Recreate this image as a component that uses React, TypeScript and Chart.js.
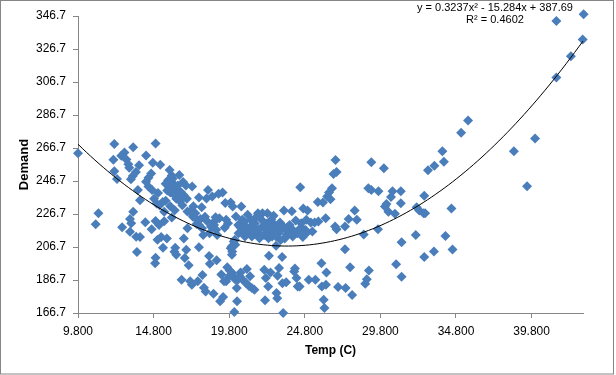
import React, { useEffect, useRef } from 'react';
import { Chart, registerables } from 'chart.js';

Chart.register(...registerables);

const tempC = [
  9.8, 10.97, 11.15, 12.2, 12.14, 12.2, 12.38, 12.72, 12.66, 12.87,
  13.0, 13.13, 13.19, 13.45, 13.3, 13.42, 13.63, 13.84, 13.24, 13.32,
  13.45, 13.24, 13.65, 13.9, 13.7, 13.76, 13.9, 14.3, 14.3, 14.46,
  14.25, 14.46, 14.64, 14.75, 14.93, 14.7, 14.83, 14.67, 14.93, 14.93,
  14.9, 15.06, 15.09, 15.24, 15.16, 15.3, 15.42, 15.5, 15.6, 15.68,
  15.76, 15.8, 15.86, 15.9, 15.9, 16.0, 16.18, 16.23, 16.3, 16.07,
  16.2, 16.3, 16.39, 16.5, 16.55, 16.65, 16.75, 16.8, 16.86, 16.94,
  16.96, 17.04, 17.04, 17.12, 17.22, 17.33, 17.35, 17.43, 17.56, 17.64,
  17.72, 17.8, 17.8, 17.9, 17.98, 18.03, 18.08, 18.13, 18.24, 18.3,
  18.34, 18.4, 18.47, 18.52, 18.68, 18.76, 18.8, 18.9, 18.94, 18.97,
  19.1, 19.15, 19.2, 19.28, 19.36, 19.4, 19.46, 19.5, 19.54, 19.6,
  19.67, 19.72, 19.83, 19.9, 19.96, 19.98, 20.03, 20.08, 20.14, 20.17,
  20.24, 20.3, 20.32, 20.37, 20.42, 20.5, 20.55, 20.6, 20.66, 20.7,
  20.76, 20.84, 20.9, 20.97, 21.02, 21.1, 21.18, 21.23, 21.3, 21.4,
  21.47, 21.54, 21.62, 21.7, 21.78, 21.86, 21.94, 22.0, 22.12, 22.17,
  22.22, 22.27, 22.33, 22.38, 22.43, 22.48, 22.53, 22.58, 22.64, 22.7,
  22.74, 22.82, 22.9, 22.93, 22.98, 23.0, 23.06, 23.1, 23.16, 23.2,
  23.3, 23.32, 23.37, 23.42, 23.47, 23.52, 23.57, 23.65, 23.73, 23.83,
  23.94, 24.0, 24.1, 24.15, 24.2, 24.25, 24.33, 24.4, 24.46, 24.5,
  24.56, 24.67, 24.7, 24.83, 24.9, 24.98, 25.06, 25.2, 25.3, 25.45,
  25.5, 25.66, 25.7, 25.9, 25.93, 26.0, 26.05, 26.1, 26.18, 26.2,
  26.23, 26.28, 26.4, 26.5, 26.6, 26.7, 26.83, 26.9, 26.8, 26.9,
  27.0, 27.46, 27.46, 27.5, 27.7, 27.8, 27.93, 28.1, 28.24, 28.7,
  28.8, 28.9, 29.04, 29.0, 29.2, 29.2, 29.67, 29.64, 30.03, 30.1,
  30.2, 30.33, 30.5, 30.6, 30.76, 30.84, 31.15, 31.15, 31.2, 31.2,
  32.14, 32.2, 32.37, 32.66, 32.76, 32.7, 32.7, 32.95, 33.37, 33.34,
  33.9, 34.0, 34.1, 34.5, 34.57, 35.14, 35.6, 38.63, 39.5, 40.03,
  41.44, 41.44, 42.4, 43.18, 43.24,
  15.6, 15.7, 15.9, 16.0, 16.1, 16.2, 16.3, 16.4, 16.6, 16.7,
  16.0, 15.4, 15.2, 15.0, 15.5, 16.2, 16.8, 17.0, 17.2, 17.4,
  17.6, 17.8, 18.0, 18.2, 18.5, 18.6, 18.8, 19.0, 20.4, 20.6,
  20.8, 21.0, 21.2, 21.3, 21.5, 21.6, 21.8, 22.0, 22.1, 22.3,
  22.4, 22.6, 22.8, 22.9, 23.1, 23.2, 23.4, 23.6, 23.8, 24.0,
  24.3, 24.6, 24.9, 20.2, 20.0, 20.1, 19.9, 19.8, 20.0, 20.2,
  20.5, 20.9, 21.1, 19.6,
];

const demand = [
  263.5, 220.5, 227.2, 269.1, 259.6, 252.6, 247.9, 218.7, 262, 263.9,
  259.8, 256.8, 254.8, 267.1, 247.7, 249.8, 252.2, 256.2, 223.6, 221.1,
  228, 215.9, 212.9, 212.7, 203.6, 241.3, 235, 262.1, 246.3, 243.3,
  221.7, 248.7, 251.2, 257.8, 269.5, 241.3, 235.9, 217.5, 222.5, 200.2,
  196.9, 211.1, 239.5, 256.6, 220.1, 212.7, 206.2, 222.3, 234.7, 211.9,
  247.2, 243.3, 253.4, 239.7, 231.4, 224.6, 203.8, 206.2, 202, 248.2,
  244.3, 241.3, 237.3, 250.4, 234.5, 186.9, 246.1, 211.9, 200, 243.9,
  205, 218.1, 228.2, 195.7, 185.9, 183.8, 243.3, 231.4, 227.2, 220.7,
  185.9, 236.7, 206.6, 223.6, 230.8, 189.7, 213.9, 182, 179.8, 236.1,
  222.3, 241.3, 201.2, 196.5, 237.3, 178.4, 220.1, 224.8, 217.1, 198.6,
  238.9, 224.2, 173.8, 190.1, 239.7, 176.4, 185.9, 218.3, 233.4, 223.2,
  194.5, 221.1, 192.5, 233.6, 207, 202, 231.2, 188.9, 167.3, 211.1,
  225.2, 181.8, 173.8, 186.9, 215.1, 219.1, 191.3, 231.2, 223.2, 217.1,
  186.3, 213.1, 219.1, 193.3, 226.2, 215.5, 188.9, 223.2, 181.8, 217.5,
  180.8, 215.1, 225.2, 227.2, 217.5, 214.1, 223.2, 227.2, 192.9, 174.4,
  187.9, 217.1, 227.2, 182.8, 201.4, 215.1, 191.3, 223.2, 213.1, 219.1,
  225.6, 216.1, 207.4, 178.8, 175.7, 189.3, 215.1, 193.9, 221.5, 217.1,
  200.6, 184.8, 166.7, 228.8, 211.9, 217.1, 185.3, 218.7, 215.1, 217.5,
  228.4, 217.1, 191.9, 193.7, 222.7, 187.9, 182.8, 217.1, 182.8, 242.9,
  221.1, 212.7, 230, 217.1, 223.2, 228.8, 186.9, 221.5, 216.1, 221.5,
  186.9, 234, 222.1, 196.9, 182.8, 233.6, 174.8, 169.7, 224.2, 183.8,
  191.3, 237.3, 239.7, 235.7, 242.3, 251, 259.4, 252.2, 219.1, 217.5,
  182.4, 219.1, 205.4, 181.8, 223.6, 194.5, 177.6, 228.8, 223.2, 214.3,
  184.4, 187.2, 192.5, 242.3, 241.3, 258, 240.5, 217.5, 254.4, 231.2,
  232.8, 228, 237, 240.5, 226.8, 196.3, 240.5, 233.2, 209.6, 188.7,
  213.9, 230.8, 228.8, 227.2, 227.2, 237.7, 200.6, 253.2, 256, 204,
  264.7, 258.4, 213.3, 230, 205.2, 276, 283.4, 264.7, 243.5, 272.5,
  309.4, 343.7, 322.3, 332.4, 347.7,
  245, 241, 246, 240, 243, 238, 236, 244, 240, 232,
  250, 234, 232, 233, 228, 229, 238, 236, 228, 225,
  224, 220, 218, 225, 215, 219, 222, 214, 220, 218,
  222, 216, 219, 213, 221, 217, 212, 219, 214, 221,
  212, 218, 220, 213, 218, 211, 219, 214, 220, 213,
  215, 218, 215, 208, 204, 210, 206, 189, 191, 187,
  189, 185, 183, 186,
];

const xTickValues = [9.8, 14.8, 19.8, 24.8, 29.8, 34.8, 39.8];
const yTickValues = [166.7, 186.7, 206.7, 226.7, 246.7, 266.7, 286.7, 306.7, 326.7, 346.7];
const xRange = [9.8, 43.2];
const yRange = [166.7, 346.7];
// Polynomial trendline coefficients shown on the chart: a x^2 + b x + c
const trendCoeffs = [0.3237, -15.284, 387.69];
const equationLines = ['y = 0.3237x² - 15.284x + 387.69', 'R² = 0.4602'];
const xTitle = 'Temp (C)';
const yTitle = 'Demand';

const FONT = "'Liberation Sans', Arial, sans-serif";
const AXIS_GRAY = '#868686';
const MARKER = '#4A7EBB';

export default function App() {
  const canvasRef = useRef<HTMLCanvasElement | null>(null);

  useEffect(() => {
    const canvas = canvasRef.current;
    if (!canvas) return;

    const points = tempC.map((x, i) => ({ x, y: demand[i] }));
    const trend: { x: number; y: number }[] = [];
    const steps = 120;
    for (let i = 0; i <= steps; i++) {
      const x = xRange[0] + ((xRange[1] - xRange[0]) * i) / steps;
      trend.push({ x, y: trendCoeffs[0] * x * x + trendCoeffs[1] * x + trendCoeffs[2] });
    }

    const framePlugin = {
      id: 'frame',
      beforeDraw(chart: any) {
        const ctx = chart.ctx;
        ctx.save();
        ctx.fillStyle = '#ffffff';
        ctx.fillRect(0, 0, chart.width, chart.height);
        ctx.restore();
      },
      afterDraw(chart: any) {
        const ctx = chart.ctx;
        ctx.save();
        ctx.strokeStyle = AXIS_GRAY;
        ctx.lineWidth = 1;
        ctx.strokeRect(0.5, 0.5, 613, 373.5);
        ctx.fillStyle = '#000';
        ctx.font = `11px ${FONT}`;
        ctx.textAlign = 'center';
        ctx.textBaseline = 'middle';
        ctx.fillText(equationLines[0], 495, 8);
        ctx.fillText(equationLines[1], 495, 20);
        ctx.restore();
      },
    };

    const chart = new Chart(canvas, {
      type: 'scatter',
      data: {
        datasets: [
          {
            label: 'Trend',
            data: trend,
            showLine: true,
            borderColor: '#000',
            borderWidth: 1,
            pointRadius: 0,
            fill: false,
            order: 0,
            clip: false,
          } as any,
          {
            label: 'Demand',
            data: points,
            pointStyle: 'rectRot',
            pointRadius: 5,
            backgroundColor: MARKER,
            borderColor: MARKER,
            borderWidth: 0,
            order: 1,
            clip: false,
          } as any,
        ],
      },
      options: {
        animation: false,
        responsive: false,
        devicePixelRatio: 1,
        layout: { padding: { left: 8, top: 16, right: 33, bottom: 8 } },
        plugins: {
          legend: { display: false },
          tooltip: { enabled: false },
        },
        scales: {
          x: {
            type: 'linear',
            min: xRange[0],
            max: xRange[1],
            afterBuildTicks: (s: any) => {
              s.ticks = xTickValues.map((v) => ({ value: v }));
            },
            afterFit: (s: any) => {
              s.height = 54;
            },
            ticks: {
              callback: (v: any) => Number(v).toFixed(3),
              padding: 6,
              color: '#000',
              font: { family: FONT, size: 12 },
              maxRotation: 0,
              autoSkip: false,
            },
            grid: {
              display: true,
              drawOnChartArea: false,
              drawTicks: true,
              tickLength: 5,
              color: AXIS_GRAY,
            },
            border: { display: true, color: AXIS_GRAY, width: 1 },
            title: {
              display: true,
              text: xTitle,
              color: '#000',
              font: { family: FONT, size: 12, weight: 'bold' },
              padding: { top: 0, bottom: 9 },
            },
          },
          y: {
            type: 'linear',
            min: yRange[0],
            max: yRange[1],
            afterBuildTicks: (s: any) => {
              s.ticks = yTickValues.map((v) => ({ value: v }));
            },
            afterFit: (s: any) => {
              s.width = 70;
            },
            ticks: {
              callback: (v: any) => Number(v).toFixed(1),
              padding: 7,
              color: '#000',
              font: { family: FONT, size: 12 },
              autoSkip: false,
            },
            grid: {
              display: true,
              drawOnChartArea: false,
              drawTicks: true,
              tickLength: 5,
              color: AXIS_GRAY,
            },
            border: { display: true, color: AXIS_GRAY, width: 1 },
            title: {
              display: true,
              text: yTitle,
              color: '#000',
              font: { family: FONT, size: 13, weight: 'bold' },
              padding: { top: 9, bottom: 0 },
            },
          },
        },
      } as any,
      plugins: [framePlugin],
    });

    return () => {
      chart.destroy();
    };
  }, []);

  return (
    <div style={{ position: 'absolute', left: 0, top: 0, width: 616, height: 375 }}>
      <canvas ref={canvasRef} width={616} height={375} style={{ display: 'block', width: 616, height: 375 }} />
    </div>
  );
}
